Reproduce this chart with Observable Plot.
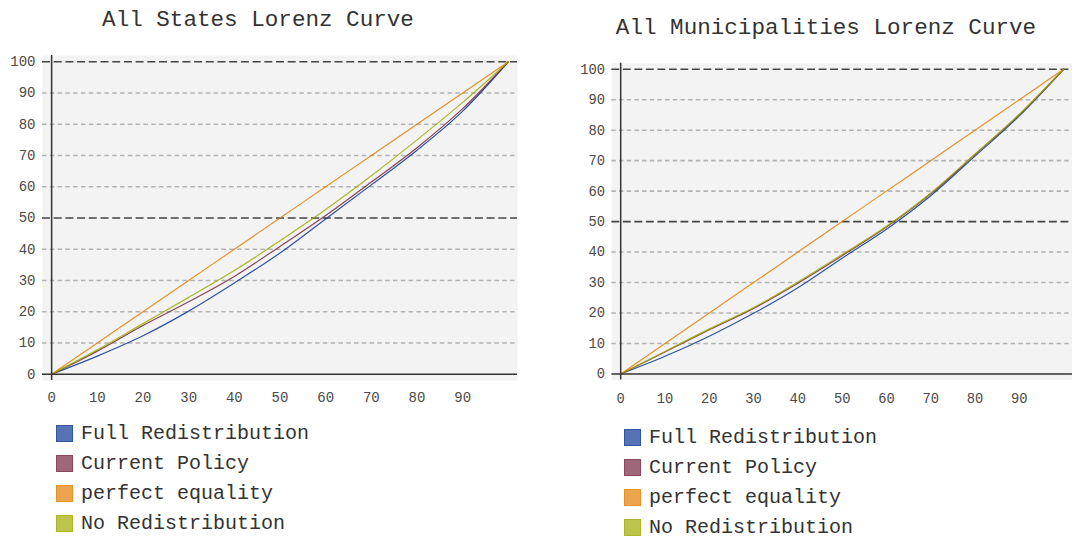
<!DOCTYPE html>
<html>
<head>
<meta charset="utf-8">
<script src="https://cdn.jsdelivr.net/npm/d3@7"></script>
<script src="https://cdn.jsdelivr.net/npm/@observablehq/plot@0.6"></script>
<style>
  html, body { margin: 0; padding: 0; background: #ffffff; overflow: hidden; width: 1072px; height: 537px; }
  body { position: relative; font-family: 'Liberation Mono', monospace; color: #333; }
  .title { position: absolute; font-size: 22.6px; white-space: nowrap; transform: translateX(-50%); color: #333; }
  .chart { position: absolute; }
  .legend { position: absolute; font-size: 20px; color: #333; }
  .legend .row { height: 30px; display: flex; align-items: center; white-space: nowrap; }
  .legend .sw { width: 17px; height: 17px; box-sizing: border-box; margin-right: 8px; }
</style>
</head>
<body>
<div class="title" style="left:258px; top:7px;">All States Lorenz Curve</div>
<div class="title" style="left:826px; top:15px;">All Municipalities Lorenz Curve</div>
<div id="left" class="chart" style="left:0px; top:40px;"></div>
<div id="right" class="chart" style="left:570px; top:40px;"></div>
<div id="legendLeft" class="legend" style="left:56px; top:418px;"></div>
<div id="legendRight" class="legend" style="left:624px; top:422px;"></div>
<script>
// ---- data ----
const populationShare = [0, 10, 20, 30, 40, 50, 60, 70, 80, 90, 100];
const seriesNames = ["Full Redistribution", "Current Policy", "perfect equality", "No Redistribution"];
const seriesColors = ["rgb(12,55,149)", "rgb(117,38,65)", "rgb(228,127,0)", "rgb(159,170,0)"];

// All States
const statesFull    = [0, 5.8, 12.3, 20.2, 29.2, 38.8, 49.7, 60.6, 71.7, 84.2, 100];
const statesCurrent = [0, 7.4, 15.6, 23.2, 31.3, 40.9, 50.8, 61.5, 72.5, 85.0, 100];
const statesEqual   = [0, 10, 20, 30, 40, 50, 60, 70, 80, 90, 100];
const statesNone    = [0, 7.8, 16.2, 24.6, 33.2, 42.7, 52.7, 63.5, 75.0, 87.0, 100];

// All Municipalities
const muniFull    = [0, 5.8, 12.4, 19.9, 28.3, 38.0, 47.5, 58.5, 71.5, 84.7, 100];
const muniCurrent = [0, 7.2, 14.5, 21.5, 29.8, 38.8, 48.2, 59.1, 72.0, 85.1, 100];
const muniEqual   = [0, 10, 20, 30, 40, 50, 60, 70, 80, 90, 100];
const muniNone    = [0, 7.4, 14.8, 21.8, 30.2, 39.2, 48.5, 59.4, 72.2, 85.2, 100];

const xTickLabels = [0, 10, 20, 30, 40, 50, 60, 70, 80, 90];
const yTickLabels = [0, 10, 20, 30, 40, 50, 60, 70, 80, 90, 100];
const majorGuides = [50, 100];
const minorGuides = [10, 20, 30, 40, 60, 70, 80, 90];

function toLong(seriesArrays) {
  const rows = [];
  seriesArrays.forEach((vals, i) => {
    vals.forEach((v, j) => rows.push({series: seriesNames[i], x: populationShare[j], y: v}));
  });
  return rows;
}

function makeChart(seriesArrays, opts) {
  const data = toLong(seriesArrays);
  return Plot.plot({
    width: opts.width,
    height: opts.height,
    marginLeft: opts.marginLeft,
    marginRight: opts.marginRight,
    marginTop: opts.marginTop,
    marginBottom: opts.marginBottom,
    style: {fontFamily: "'Liberation Mono', monospace", fontSize: "14px", color: "#444", background: "transparent", overflow: "visible"},
    x: {domain: [-2, 102], axis: null},
    y: {domain: [-2, 102], axis: null},
    color: {domain: seriesNames, range: seriesColors},
    marks: [
      Plot.frame({fill: "#f3f3f3", fillOpacity: 1, stroke: null}),
      Plot.ruleY(minorGuides, {stroke: "#b3b3b3", strokeWidth: 1.6, strokeDasharray: "4.5,3.3"}),
      Plot.ruleY(majorGuides, {stroke: "#444", strokeWidth: 1.6, strokeDasharray: "8,3.7"}),
      Plot.axisX(xTickLabels, {tickSize: 0, tickPadding: opts.xPad, fontSize: 14, fill: "#4a4a4a", label: null}),
      Plot.axisY(yTickLabels, {tickSize: 0, tickPadding: 7, fontSize: 14, fill: "#4a4a4a", label: null}),
      Plot.line(data, {x: "x", y: "y", z: "series", stroke: "series", strokeWidth: 1.2, strokeOpacity: 0.85, curve: "monotone-x"}),
      Plot.ruleX([0], {stroke: "#333", strokeWidth: 1.5}),
      Plot.ruleY([0], {stroke: "#333", strokeWidth: 1.5})
    ]
  });
}

document.getElementById("left").appendChild(makeChart(
  [statesFull, statesCurrent, statesEqual, statesNone],
  {width: 540, height: 375, marginLeft: 42, marginRight: 23, marginTop: 15, marginBottom: 35, xPad: 12}
));
document.getElementById("right").appendChild(makeChart(
  [muniFull, muniCurrent, muniEqual, muniNone],
  {width: 510, height: 380, marginLeft: 42, marginRight: 0, marginTop: 23, marginBottom: 35, xPad: 13}
));

function makeLegend(el) {
  seriesNames.forEach((name, i) => {
    const row = document.createElement("div");
    row.className = "row";
    const sw = document.createElement("div");
    sw.className = "sw";
    const c = d3.color(seriesColors[i]);
    const fill = d3.rgb(c.r * 0.7 + 255 * 0.3, c.g * 0.7 + 255 * 0.3, c.b * 0.7 + 255 * 0.3);
    sw.style.background = fill.formatRgb();
    sw.style.border = "1px solid " + d3.rgb(c.r * 0.85 + 255 * 0.15, c.g * 0.85 + 255 * 0.15, c.b * 0.85 + 255 * 0.15).formatRgb();
    const label = document.createElement("span");
    label.textContent = name;
    row.appendChild(sw);
    row.appendChild(label);
    el.appendChild(row);
  });
}
makeLegend(document.getElementById("legendLeft"));
makeLegend(document.getElementById("legendRight"));
</script>
</body>
</html>
